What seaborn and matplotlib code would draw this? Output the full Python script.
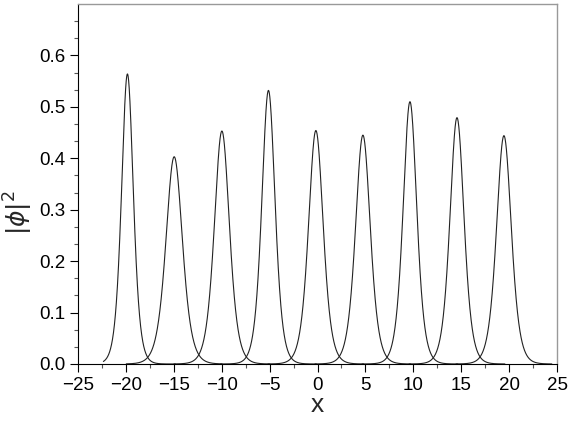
import numpy as np
import pandas as pd
import matplotlib
matplotlib.use("Agg")
import matplotlib.pyplot as plt
from matplotlib.ticker import MultipleLocator, FixedLocator
import seaborn as sns

# Peak parameters (soliton-like |phi|^2 profiles)
centers = [-19.84, -14.96, -9.98, -5.12, -0.17, 4.74, 9.65, 14.56, 19.46]
heights = [0.564, 0.403, 0.453, 0.532, 0.454, 0.445, 0.510, 0.479, 0.444]
widths = [0.82, 1.15, 1.05, 0.92, 1.02, 1.03, 0.95, 0.98, 1.03]
domain_left = -22.35
half_window = 5.0

xticks = [-25, -20, -15, -10, -5, 0, 5, 10, 15, 20, 25]
yticks = [0.0, 0.1, 0.2, 0.3, 0.4, 0.5, 0.6]

rows = []
for k, (c, a, w) in enumerate(zip(centers, heights, widths)):
    xs = np.linspace(max(c - half_window, domain_left), c + half_window, 600)
    ys = a / np.cosh((xs - c) / w) ** 2
    rows.append(pd.DataFrame({"x": xs, "y": ys, "peak": k}))
df = pd.concat(rows, ignore_index=True)

sns.set_style("ticks")
plt.rcParams["font.family"] = ["Liberation Sans", "DejaVu Sans"]
plt.rcParams["mathtext.fontset"] = "dejavusans"

fig = plt.figure(figsize=(5.70, 4.24), dpi=100)
ax = fig.add_axes([78 / 570, 1 - 364 / 424, (557 - 78) / 570, (364 - 4) / 424])

sns.lineplot(data=df, x="x", y="y", units="peak", estimator=None,
             color="#222222", linewidth=0.8, ax=ax, legend=False)

ax.set_xlim(-25, 25)
ax.set_ylim(0, 0.7)
ax.xaxis.set_major_locator(FixedLocator(xticks))
ax.xaxis.set_minor_locator(MultipleLocator(2.5))
ax.yaxis.set_major_locator(FixedLocator(yticks))
ax.yaxis.set_minor_locator(FixedLocator(np.arange(0, 0.69, 0.1 / 3)))
ax.set_xticklabels([f"{t:d}".replace("-", "\u2212") for t in xticks])
ax.set_yticklabels([f"{t:.1f}" for t in yticks])

ax.tick_params(axis="both", which="major", direction="out", length=6,
               width=0.8, labelsize=13.5, colors="black", pad=3)
ax.tick_params(axis="both", which="minor", direction="out", length=3,
               width=0.8, colors="#555555")
ax.tick_params(top=False, right=False, which="both")

for side in ["left", "bottom"]:
    ax.spines[side].set_color("black")
    ax.spines[side].set_linewidth(0.8)
for side in ["top", "right"]:
    ax.spines[side].set_visible(True)
    ax.spines[side].set_color("#999999")
    ax.spines[side].set_linewidth(1.0)

ax.set_xlabel("x", fontsize=19, va="center")
ax.xaxis.set_label_coords(0.5, -0.115)
ax.set_ylabel(r"$|\phi|^2$", fontsize=18, va="center")
ax.yaxis.set_label_coords(-0.125, 0.42)

fig.savefig("out.png", dpi=100)
